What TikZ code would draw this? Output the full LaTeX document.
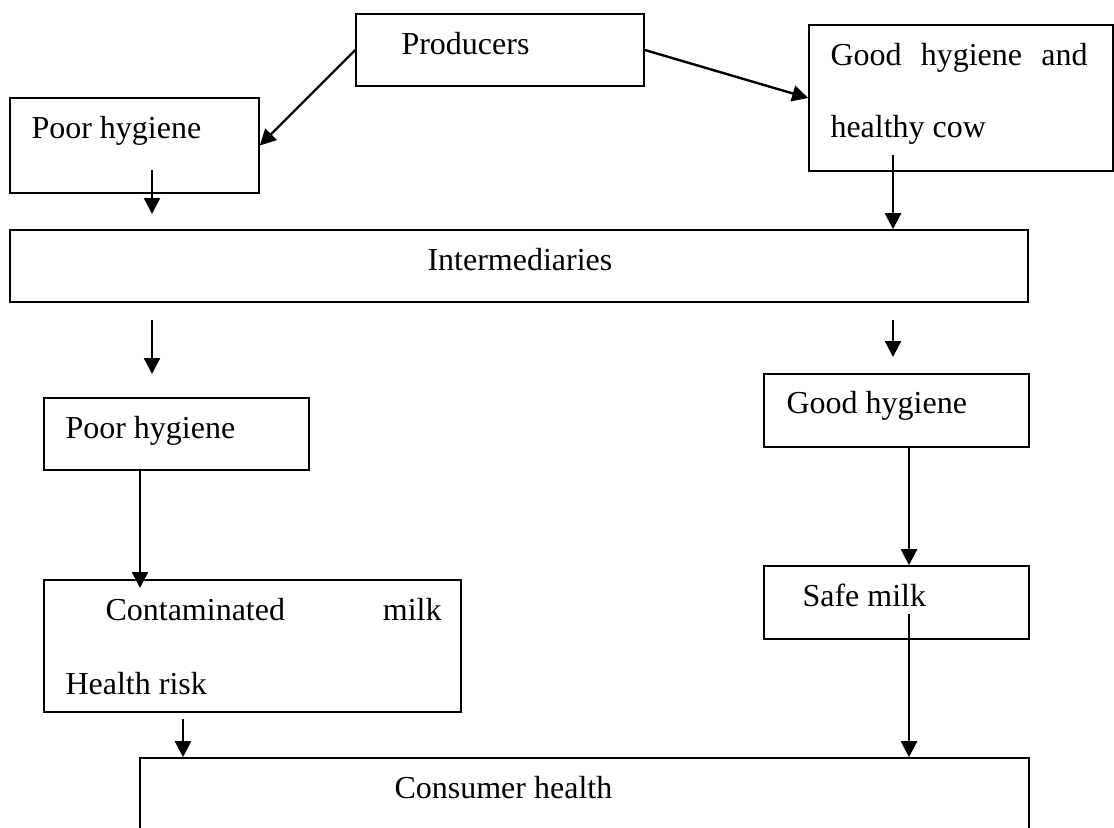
\documentclass[tikz,border=0pt]{standalone}
\usepackage{fontspec}
\setmainfont{Liberation Serif}
\usetikzlibrary{arrows.meta,fit}
\begin{document}
\begin{tikzpicture}[x=0.375pt,y=-0.375pt,
  box/.style={draw, line width=0.6pt, inner sep=0pt},
  txt/.style={anchor=base west, inner sep=0pt, font=\fontsize{12pt}{14pt}\selectfont},
  arr/.style={line width=0.9pt, -{Triangle[length=6pt,width=6pt]}}]
\useasboundingbox (0,0) rectangle (1114,828);
\begin{scope}
\clip (0,0) rectangle (1114,828);
% boxes
\node[box, fit={(356,14) (644,86)}] (prod) {};
\node[box, fit={(10,98) (259,193)}] (poor1) {};
\node[box, fit={(809,25) (1113,171)}] (goodcow) {};
\node[box, fit={(10,230) (1028,302)}] (inter) {};
\node[box, fit={(44,398) (309,470)}] (poor2) {};
\node[box, fit={(764,374) (1029,447)}] (goodh) {};
\node[box, fit={(44,580) (461,712)}] (contam) {};
\node[box, fit={(764,566) (1029,639)}] (safe) {};
\node[box, fit={(140,758) (1029,860)}] (consumer) {};
% texts
\node[txt] (tprod) at (401,54) {Producers};
\node[txt] (tpoor1) at (31,138) {Poor hygiene};
\node[txt] (tgood1) at (830,65) {\makebox[96.4pt][s]{Good hygiene and}};
\node[txt] (tgood2) at (830,137) {healthy cow};
\node[txt] (tinter) at (427,270) {Intermediaries};
\node[txt] (tpoor2) at (65,438) {Poor hygiene};
\node[txt] (tgoodh) at (786,413) {Good hygiene};
\node[txt] (tcont) at (105,620) {\makebox[126pt][s]{Contaminated milk}};
\node[txt] (trisk) at (65,694) {Health risk};
\node[txt] (tsafe) at (802,606) {Safe milk};
\node[txt] (tcons) at (394,798) {Consumer health};
% connector ends
\coordinate (a3s) at (152,170); \coordinate (a3e) at (152,214);
\coordinate (a4s) at (893,155);
\coordinate (a5s) at (152,320); \coordinate (a5e) at (152,374);
\coordinate (a6s) at (893,320); \coordinate (a6e) at (893,357);
\coordinate (a7s) at (140,470); \coordinate (a7e) at (140,588);
\coordinate (a8s) at (183,719);
\coordinate (a9s) at (909,447);
\coordinate (a10s) at (909,614);
% connectors
\draw[arr] (prod.west) -- (poor1.east);
\draw[arr] (prod.east) -- (goodcow.west);
\draw[arr] (a3s) -- (a3e);
\draw[arr] (a4s) -- (a4s |- inter.north);
\draw[arr] (a5s) -- (a5e);
\draw[arr] (a6s) -- (a6e);
\draw[arr] (a7s) -- (a7e);
\draw[arr] (a8s) -- (a8s |- consumer.north);
\draw[arr] (a9s) -- (a9s |- safe.north);
\draw[arr] (a10s) -- (a10s |- consumer.north);
\end{scope}
\end{tikzpicture}
\end{document}
